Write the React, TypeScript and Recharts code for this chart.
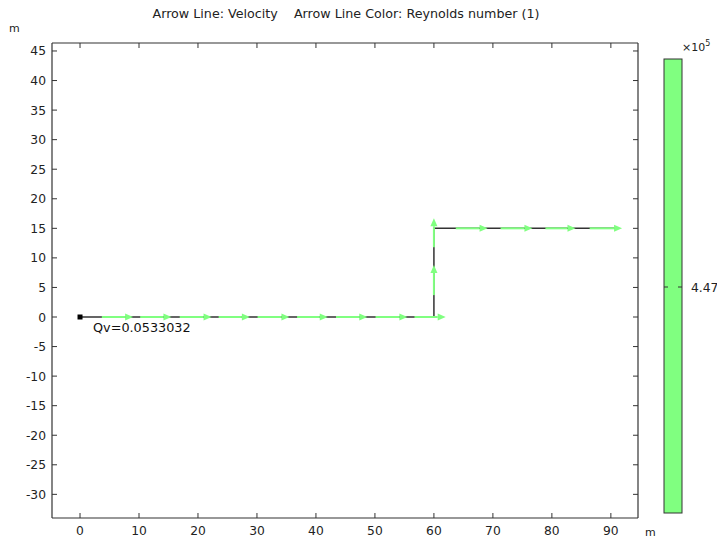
import { ComposedChart, Line, XAxis, YAxis, Scatter, ReferenceLine } from "recharts";

const xTicks = [0, 10, 20, 30, 40, 50, 60, 70, 80, 90];
const yTicks = [45, 40, 35, 30, 25, 20, 15, 10, 5, 0, -5, -10, -15, -20, -25, -30];

// pipe centre line (black)
const pathX = [0, 60, 60, 91];
const pathY = [0, 0, 15, 15];

// velocity arrows along the pipe (start -> tip)
const arrowX1 = [3.7, 10.2, 16.9, 23.5, 30.1, 36.8, 43.4, 50.1, 56.7, 60, 60, 63.7, 71.3, 78.9, 86.4];
const arrowY1 = [0, 0, 0, 0, 0, 0, 0, 0, 0, 3.7, 11.8, 15, 15, 15, 15];
const arrowX2 = [9.0, 15.5, 22.3, 28.8, 35.5, 42.0, 48.7, 55.5, 62.0, 60, 60, 69.1, 76.7, 84.0, 91.9];
const arrowY2 = [0, 0, 0, 0, 0, 0, 0, 0, 0, 8.8, 16.7, 15, 15, 15, 15];

// inlet point with its label
const pointX = [0];
const pointY = [0];
const pointLabels = ["Qv=0.0533032"];

// colour legend (Reynolds number, x10^5)
const colorTicks = [4.47];

const GREEN = "#80ff80";
const FONT = "DejaVu Sans";

const pathData = pathX.map((x, i) => ({ x, y: pathY[i] }));
const pointData = pointX.map((x, i) => ({ x, y: pointY[i], label: pointLabels[i] }));
const arrows = arrowX1.map((x1, i) => ({ x1, y1: arrowY1[i], x2: arrowX2[i], y2: arrowY2[i] }));

const Arrow = (p: any) => {
  const { x1, y1, x2, y2 } = p;
  const dx = x2 - x1;
  const dy = y2 - y1;
  const len = Math.sqrt(dx * dx + dy * dy) || 1;
  const ux = dx / len;
  const uy = dy / len;
  const head = 8;
  const hw = 3.5;
  const bx = x2 - ux * head;
  const by = y2 - uy * head;
  return (
    <g>
      <line x1={x1} y1={y1} x2={bx} y2={by} stroke={GREEN} strokeWidth={2} />
      <polygon
        points={`${x2},${y2} ${bx - uy * hw},${by + ux * hw} ${bx + uy * hw},${by - ux * hw}`}
        fill={GREEN}
      />
    </g>
  );
};

const BottomTick = (p: any) => (
  <g>
    <line x1={p.x} y1={p.y} x2={p.x} y2={p.y - 5} stroke="#333" />
    <text x={p.x} y={p.y + 17} textAnchor="middle" fontSize={12.3} fontFamily={FONT} fill="#222">
      {p.payload.value}
    </text>
  </g>
);

const TopTick = (p: any) => <line x1={p.x} y1={p.y} x2={p.x} y2={p.y + 5} stroke="#333" />;

const LeftTick = (p: any) => (
  <g>
    <line x1={p.x} y1={p.y} x2={p.x + 5} y2={p.y} stroke="#333" />
    <text x={p.x - 6} y={p.y + 4.5} textAnchor="end" fontSize={12.3} fontFamily={FONT} fill="#222">
      {p.payload.value}
    </text>
  </g>
);

const RightTick = (p: any) => <line x1={p.x} y1={p.y} x2={p.x - 5} y2={p.y} stroke="#333" />;

const PointShape = (p: any) => (
  <g>
    <rect x={p.cx - 2.5} y={p.cy - 2.5} width={5} height={5} fill="#000" />
    <text x={p.cx + 13} y={p.cy + 14.5} fontSize={12.8} fontFamily={FONT} fill="#111">
      {p.payload.label}
    </text>
  </g>
);

export default function App() {
  const axisLine = { stroke: "#333", strokeWidth: 1.2 };
  return (
    <div style={{ position: "absolute", left: 0, top: 0, width: 717, height: 540, background: "#fff" }}>
      <ComposedChart width={717} height={540} margin={{ top: 42, right: 78, bottom: 0, left: 0 }}>
        <XAxis
          xAxisId={0}
          dataKey="x"
          type="number"
          domain={[-4.75, 94.6]}
          ticks={xTicks}
          allowDataOverflow
          height={22}
          tickSize={0}
          tickMargin={0}
          tickLine={false}
          axisLine={axisLine}
          tick={BottomTick}
          interval={0}
        />
        <XAxis
          xAxisId="top"
          dataKey="x"
          orientation="top"
          type="number"
          domain={[-4.75, 94.6]}
          ticks={xTicks}
          allowDataOverflow
          height={1}
          tickSize={0}
          tickMargin={0}
          tickLine={false}
          axisLine={axisLine}
          tick={TopTick}
          interval={0}
        />
        <YAxis
          yAxisId={0}
          type="number"
          domain={[-34, 46.35]}
          ticks={yTicks}
          allowDataOverflow
          width={52}
          tickSize={0}
          tickMargin={0}
          tickLine={false}
          axisLine={axisLine}
          tick={LeftTick}
          interval={0}
        />
        <YAxis
          yAxisId="right"
          orientation="right"
          type="number"
          domain={[-34, 46.35]}
          ticks={yTicks}
          allowDataOverflow
          width={1}
          tickSize={0}
          tickMargin={0}
          tickLine={false}
          axisLine={axisLine}
          tick={RightTick}
          interval={0}
        />
        <Line
          data={pathData}
          dataKey="y"
          type="linear"
          stroke="#333"
          strokeWidth={1.5}
          dot={false}
          activeDot={false}
          isAnimationActive={false}
        />
        {/* invisible series so the frame axes on top/right are drawn */}
        <Line
          data={pathData}
          dataKey="y"
          xAxisId="top"
          yAxisId="right"
          stroke="none"
          dot={false}
          activeDot={false}
          isAnimationActive={false}
        />
        {arrows.map((a, i) => (
          <ReferenceLine
            key={i}
            segment={[
              { x: a.x1, y: a.y1 },
              { x: a.x2, y: a.y2 },
            ]}
            ifOverflow="visible"
            shape={Arrow}
          />
        ))}
        <Scatter data={pointData} dataKey="y" shape={PointShape} isAnimationActive={false} />
      </ComposedChart>
      <svg
        width={717}
        height={540}
        style={{ position: "absolute", left: 0, top: 0, pointerEvents: "none" }}
        fontFamily={FONT}
      >
        <text x={346} y={18} textAnchor="middle" fontSize={12.7} fill="#222" xmlSpace="preserve">
          {"Arrow Line: Velocity    Arrow Line Color: Reynolds number (1)"}
        </text>
        <text x={9} y={32} fontSize={11} fill="#222">m</text>
        <text x={645} y={536} fontSize={11} fill="#222">m</text>
        <rect x={664} y={59} width={18} height={454} fill={GREEN} stroke="#333" strokeWidth={1} />
        {colorTicks.map((t) => (
          <g key={t}>
            <line x1={664} y1={287} x2={668} y2={287} stroke="#333" />
            <line x1={678} y1={287} x2={682} y2={287} stroke="#333" />
            <text x={691} y={291.5} fontSize={12.3} fill="#222">{t.toFixed(2)}</text>
          </g>
        ))}
        <text x={682} y={51} fontSize={11} fill="#222">
          ×10<tspan dy={-5} fontSize={8}>5</tspan>
        </text>
      </svg>
    </div>
  );
}
